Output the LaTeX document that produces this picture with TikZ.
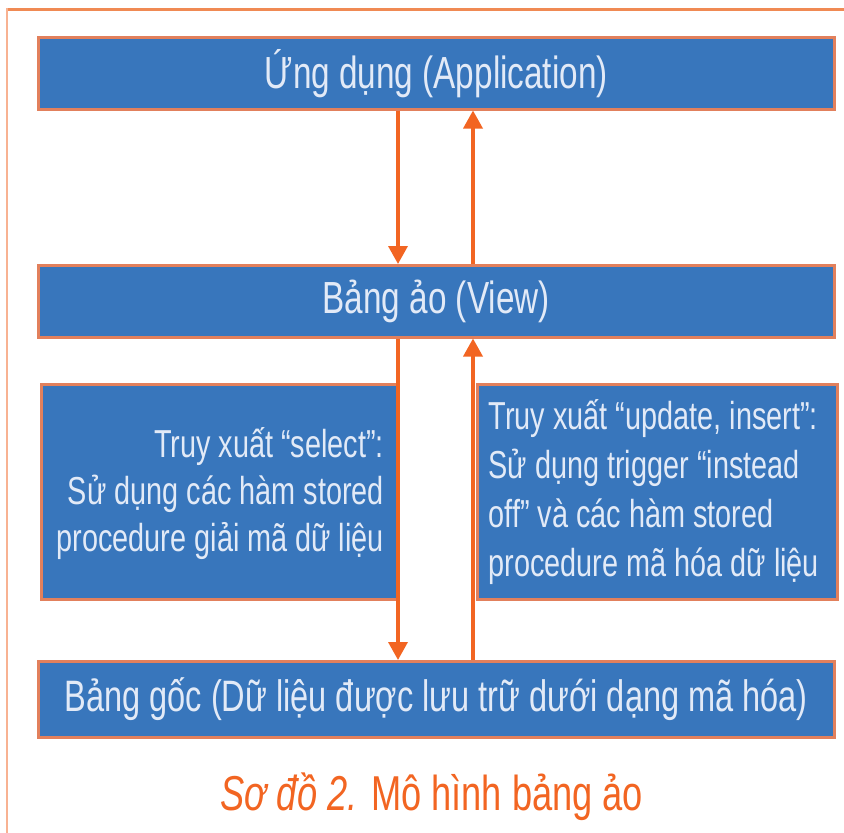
\documentclass[tikz,border=0pt]{standalone}
\usepackage{fontspec}
\setmainfont{Liberation Sans}[FakeStretch=0.74]
\usetikzlibrary{arrows.meta,positioning}
\definecolor{boxblue}{RGB}{56,118,188}
\definecolor{boxedge}{RGB}{226,128,92}
\definecolor{arrorange}{RGB}{242,101,34}
\definecolor{frametop}{RGB}{240,138,84}
\definecolor{frameleft}{RGB}{248,178,146}
\definecolor{boxtext}{RGB}{226,234,247}
\tikzset{
  x=1pt, y=-1pt,
  bluebox/.style={draw=boxedge, line width=2.5pt, fill=boxblue, text=boxtext,
    inner sep=0pt, anchor=north west},
  flow/.style={draw=arrorange, line width=3.5pt,
    -{Triangle[width=19pt,length=18pt]}},
}
\begin{document}
\begin{tikzpicture}
\useasboundingbox (0,0) rectangle (844,833);
% outer frame
\draw[frametop, line width=3pt] (6,9) -- (844,9);
\draw[frameleft, line width=2pt] (6.5,8) -- (6.5,833);

% main layers
\node[bluebox, minimum width=796pt, minimum height=72pt] (app) at (37,36)
  {\fontsize{45}{52}\selectfont Ứng dụng (Application)};
\node[bluebox, minimum width=796pt, minimum height=72pt] (view) at (37,264)
  {\fontsize{45}{52}\selectfont Bảng ảo (View)};
\node[bluebox, minimum width=796pt, minimum height=76pt] (base) at (37,660)
  {\fontsize{44}{52}\selectfont Bảng gốc (Dữ liệu được lưu trữ dưới dạng mã hóa)};

% side descriptions
\node[bluebox, minimum width=357pt, minimum height=215pt] (sel) at (40,383) {};
\node[text=boxtext, align=right, anchor=east, font=\fontsize{39}{47}\selectfont]
  (seltxt) at ([xshift=-12pt,yshift=-2pt]sel.east)
  {Truy xuất ``select'':\\Sử dụng các hàm stored\\procedure giải mã dữ liệu};
\node[bluebox, minimum width=360pt, minimum height=215pt] (upd) at (476,383) {};
\node[text=boxtext, align=left, anchor=west, font=\fontsize{39}{49}\selectfont]
  (updtxt) at ([xshift=9pt,yshift=0pt]upd.west)
  {Truy xuất ``update, insert'':\\Sử dụng trigger ``instead\\off'' và các hàm stored\\procedure mã hóa dữ liệu};

% connector columns
\coordinate (down) at (398,0);
\coordinate (up) at (473,0);
\draw[flow] (app.south -| down) -- (view.north -| down);
\draw[flow] (view.north -| up) -- (app.south -| up);
\draw[flow] (view.south -| down) -- (base.north -| down);
\draw[flow] (base.north -| up) -- (view.south -| up);

% caption
\node[text=arrorange, font=\fontsize{49}{56}\selectfont] (cap) at (432,797)
  {\textit{Sơ đồ 2.} Mô hình bảng ảo};
\end{tikzpicture}
\end{document}
